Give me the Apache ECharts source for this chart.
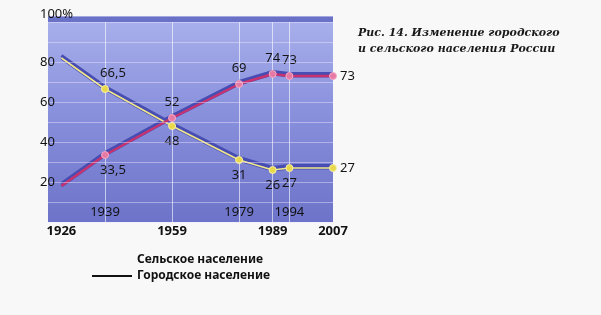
<!DOCTYPE html>
<html><head><meta charset="utf-8">
<script src="https://cdn.jsdelivr.net/npm/echarts@6/dist/echarts.min.js"></script>
<style>html,body{margin:0;padding:0;background:#f8f8f8}#c{width:601px;height:315px}</style>
</head><body><div id="c"></div>
<script>
const years = [1926, 1939, 1959, 1979, 1989, 1994, 2007];
const urban = [18, 33.5, 52, 69, 74, 73, 73];
const rural = [82, 66.5, 48, 31, 26, 27, 27];
const bottomYearLabels = [1926, 1959, 1989, 2007];
const innerYearLabels = [1939, 1979, 1994];
const gridYears = [1939, 1959, 1979, 1989, 1994];
const yTicks = [20, 40, 60, 80, 100];
const urbanName = 'Городское население';
const ruralName = 'Сельское население';
const captionText = 'Рис. 14. Изменение городского\nи сельского населения России';

// styling (not data)
const urbanLabelPos = [null, 'bottom', 'top', 'top', 'top', 'top', 'right'];
const ruralLabelPos = [null, 'top', 'bottom', 'bottom', 'bottom', 'bottom', 'right'];
const FONT = '"Noto Sans", "DejaVu Sans", sans-serif';

function buildData(vals, pos) {
  return years.map((y, i) => {
    const item = { value: [y, vals[i]] };
    if (i === 0) {
      item.symbol = 'none';
      item.label = { show: false };
    } else {
      item.label = {
        show: true, position: pos[i],
        offset: (y === 1939) ? [8, 0] : [0, 0],
        distance: pos[i] === 'right' ? 3 : 5
      };
    }
    return item;
  });
}
const fmt = p => String(p.value[1]).replace('.', ',');

const chart = echarts.init(document.getElementById('c'), null, {renderer: 'canvas'});
const bandStyle = { width: 3, color: '#474db2', shadowColor: '#474db2', shadowOffsetY: -2.5, shadowBlur: 0 };

chart.setOption({
  backgroundColor: '#f8f8f8',
  animation: false,
  title: {
    text: captionText, left: 353, top: 20,
    textStyle: { fontFamily: '"DejaVu Serif", "Liberation Serif", serif', fontStyle: 'italic', fontWeight: 'bold', fontSize: 11, lineHeight: 16, color: '#1a1a1a' }
  },
  legend: {
    orient: 'vertical', left: 87, top: 248, selectedMode: false,
    itemWidth: 40, itemHeight: 2, itemGap: 2,
    textStyle: { fontFamily: FONT, fontSize: 12, fontWeight: 'bold', color: '#111', lineHeight: 14 },
    data: [
      { name: ruralName, icon: 'rect', itemStyle: { color: '#f8f8f8', opacity: 0, borderWidth: 0 }, lineStyle: { color: '#f8f8f8', opacity: 0 } },
      { name: urbanName, icon: 'rect', itemStyle: { color: '#111', borderWidth: 0 }, lineStyle: { color: '#111' } }
    ]
  },
  grid: {
    left: 48, right: 268, top: 16, bottom: 93, show: true, borderWidth: 0,
    backgroundColor: new echarts.graphic.LinearGradient(0, 0, 0, 1, [
      { offset: 0, color: '#a9b1ec' },
      { offset: 0.5, color: '#878edb' },
      { offset: 1, color: '#6d73c8' }
    ])
  },
  xAxis: [
    {
      type: 'value', min: 1922, max: 2007, position: 'bottom',
      axisLine: { show: false }, axisTick: { show: false },
      splitLine: { show: false },
      axisLabel: {
        customValues: bottomYearLabels, margin: 3, showMaxLabel: true, showMinLabel: true,
        fontFamily: FONT, fontSize: 13, fontWeight: 'bold', color: '#111',
        formatter: v => String(v)
      }
    },
    {
      type: 'value', min: 1922, max: 2007, position: 'bottom',
      axisLine: { show: false },
      axisTick: { show: false, customValues: gridYears },
      splitLine: { show: true, lineStyle: { color: 'rgba(255,255,255,0.6)', width: 1 } },
      axisLabel: {
        customValues: innerYearLabels, inside: true, margin: 3,
        fontFamily: FONT, fontSize: 13, color: '#111',
        formatter: v => String(v)
      }
    }
  ],
  yAxis: {
    type: 'value', min: 0, max: 103, interval: 10, z: 10,
    axisLine: { show: false }, axisTick: { show: false },
    splitLine: { show: true, lineStyle: { color: 'rgba(240,230,255,0.45)', width: 1 } },
    axisLabel: {
      align: 'left', margin: 8, fontFamily: FONT, fontSize: 13, color: '#111',
      formatter: v => yTicks.includes(v) ? (v === 100 ? '{t|100%}' : String(v)) : '',
      rich: { t: { fontFamily: FONT, fontSize: 13, color: '#111', padding: [0, 0, 16, 0] } }
    }
  },
  series: [
    {
      name: 'bandR', type: 'line', silent: true, z: 2, symbol: 'none',
      data: years.map((y, i) => [y, rural[i]]), lineStyle: bandStyle,
      markArea: { silent: true, itemStyle: { color: '#6a72c8' }, data: [[{ yAxis: 100 }, { yAxis: 103 }]] }
    },
    {
      name: 'bandU', type: 'line', silent: true, z: 2, symbol: 'none',
      data: years.map((y, i) => [y, urban[i]]), lineStyle: bandStyle
    },
    {
      name: ruralName, type: 'line', z: 3, symbol: 'circle', symbolSize: 7,
      data: buildData(rural, ruralLabelPos),
      lineStyle: { color: '#f0e68a', width: 1.6 },
      itemStyle: { color: '#e8d84c', borderColor: '#f8f0a8', borderWidth: 1 },
      label: { show: true, fontFamily: FONT, fontSize: 13, color: '#151515', formatter: fmt }
    },
    {
      name: urbanName, type: 'line', z: 4, symbol: 'circle', symbolSize: 7,
      data: buildData(urban, urbanLabelPos),
      lineStyle: { color: '#c8336f', width: 2.4 },
      itemStyle: { color: '#e57ba4', borderColor: '#f6a9c7', borderWidth: 1 },
      label: { show: true, fontFamily: FONT, fontSize: 13, color: '#151515', formatter: fmt }
    }
  ]
});
</script></body></html>
